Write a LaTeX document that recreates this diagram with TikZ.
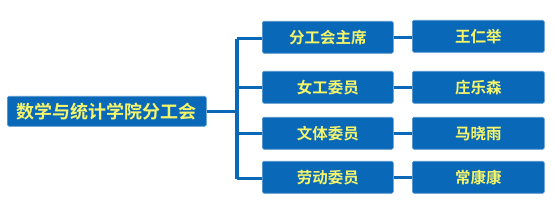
\documentclass[tikz,border=0pt]{standalone}
\usepackage{fontspec}
\newfontfamily\cjk{Noto Sans CJK SC Bold}
\definecolor{boxblue}{HTML}{0A68B8}
\definecolor{txtyellow}{HTML}{F5F56A}
\begin{document}
\begin{tikzpicture}[x=1pt,y=-1pt,
  box/.style={fill=boxblue, draw=boxblue!70!white, line width=0.6pt, rounded corners=1.5pt, inner sep=0pt, anchor=north west, text=txtyellow, font=\cjk\fontsize{15.5}{15.5}\selectfont},
  midbox/.style={box, minimum width=131pt, minimum height=32pt},
  namebox/.style={box, minimum width=132pt, minimum height=32pt},
  link/.style={draw=boxblue, line width=3.2pt}]
\useasboundingbox (0,0) rectangle (554,213);
\node[box, minimum width=199pt, minimum height=30pt, font=\cjk\fontsize{18}{18}\selectfont] (main) at (7,96) {数学与统计学院分工会};
\node[midbox] (m1) at (262,21) {分工会主席};
\node[midbox] (m2) at (262,71) {女工委员};
\node[midbox] (m3) at (262,117) {文体委员};
\node[midbox] (m4) at (262,161) {劳动委员};
\node[namebox] (r1) at (412,20) {王仁举};
\node[namebox] (r2) at (412,71) {庄乐森};
\node[namebox] (r3) at (412,117) {马晓雨};
\node[namebox] (r4) at (412,161) {常康康};
\coordinate (j) at (237,110);
\coordinate (jt) at (237,38.6);
\coordinate (jb) at (237,178.6);
\draw[link] (main.east) -- (j |- main.east);
\draw[link] (jt) -- (jb);
\draw[link] (jt) -- (m1.west |- jt);
\draw[link] (j |- m2.west) -- (m2.west);
\draw[link] (j |- m3.west) -- (m3.west);
\draw[link] (jb) -- (m4.west |- jb);
\draw[link] (m1.east) -- (r1.west |- m1.east);
\draw[link] (m2.east) -- (r2.west);
\draw[link] (m3.east) -- (r3.west);
\draw[link] (m4.east) -- (r4.west);
\end{tikzpicture}
\end{document}
